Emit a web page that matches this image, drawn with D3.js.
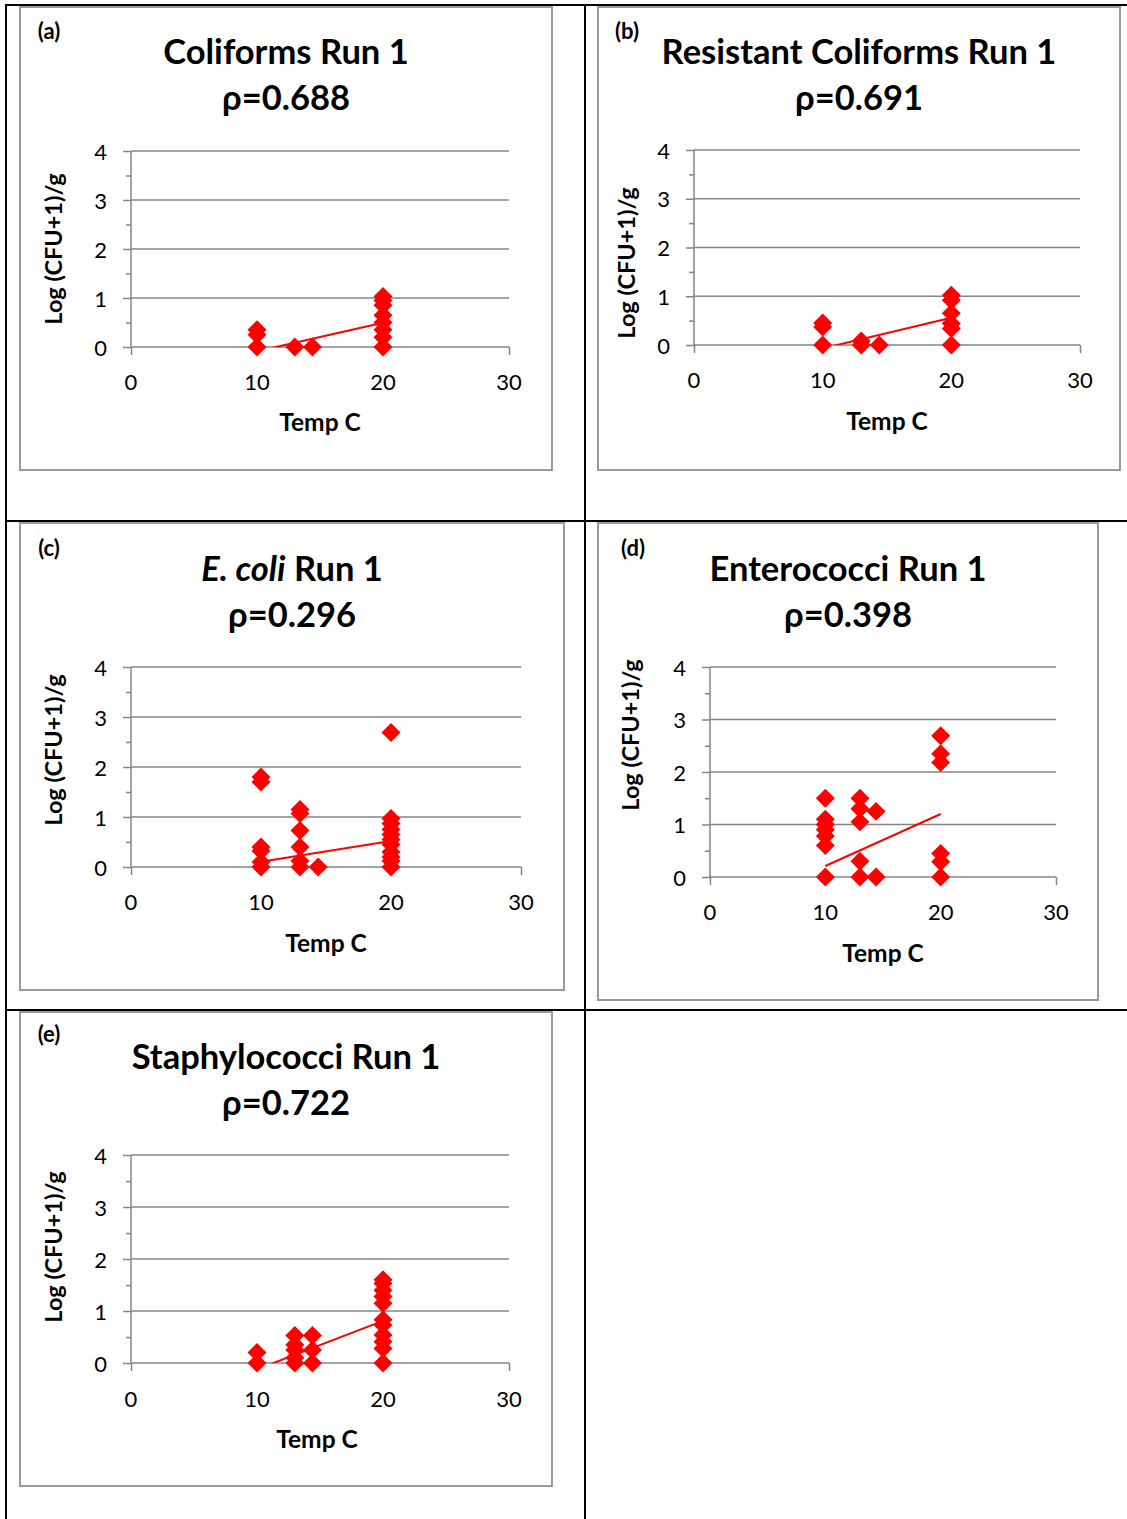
<!DOCTYPE html>
<html><head><meta charset="utf-8">
<script src="https://cdn.jsdelivr.net/npm/d3@7"></script>
<style>
body{margin:0;background:#fff}
svg{display:block}
text{font-family:Lato,'Open Sans',sans-serif;fill:#000}
</style>
</head><body>
<svg id="chart" width="1127" height="1519"></svg>
<script>
// ---------- data ----------
const xTickValues = [0, 10, 20, 30];
const yTickValues = [0, 1, 2, 3, 4];
const panelLetters = ["(a)", "(b)", "(c)", "(d)", "(e)"];
const titleItalic = ["", "", "E. coli", "", ""];
const titleText = ["Coliforms Run 1", "Resistant Coliforms Run 1", " Run 1", "Enterococci Run 1", "Staphylococci Run 1"];
const rhoLabels = ["ρ=0.688", "ρ=0.691", "ρ=0.296", "ρ=0.398", "ρ=0.722"];
const xAxisTitle = "Temp C";
const yAxisTitle = "Log (CFU+1)/g";

const tempsA = [10,10,10, 13, 14.4, 20,20,20,20,20,20,20,20];
const logsA  = [0,0.25,0.35, 0, 0, 0,0.2,0.35,0.5,0.65,0.85,0.95,1.03];

const tempsB = [10,10,10, 13,13, 14.4, 20,20,20,20,20,20];
const logsB  = [0,0.37,0.45, 0,0.08, 0, 0,0.34,0.44,0.65,0.92,1.02];

const tempsC = [10,10,10,10,10,10, 13,13,13,13,13,13, 14.4, 20,20,20,20,20,20,20,20,20,20,20];
const logsC  = [0,0.1,0.32,0.4,1.7,1.8, 0,0.12,0.4,0.73,1.07,1.15, 0, 0,0.12,0.2,0.3,0.45,0.55,0.65,0.75,0.87,0.97,2.69];

const tempsD = [10,10,10,10,10,10,10, 13,13,13,13,13, 14.4,14.4, 20,20,20,20,20,20];
const logsD  = [0,0.6,0.78,0.9,1.0,1.1,1.5, 0,0.3,1.05,1.3,1.5, 0,1.25, 0,0.29,0.45,2.18,2.35,2.69];

const tempsE = [10,10, 13,13,13,13,13, 14.4,14.4,14.4, 20,20,20,20,20,20,20,20,20,20,20];
const logsE  = [0,0.2, 0,0.1,0.25,0.35,0.53, 0,0.25,0.53, 0,0.28,0.41,0.54,0.73,0.83,1.15,1.28,1.4,1.53,1.6];

const trendSlopes = [0.058, 0.063, 0.0413, 0.099, 0.0931];
const trendIntercepts = [-0.667, -0.70, -0.306, -0.78, -1.052];
const trendRange = [10, 20];

const seriesTemps = [tempsA, tempsB, tempsC, tempsD, tempsE];
const seriesLogs = [logsA, logsB, logsC, logsD, logsE];

// ---------- layout ----------
const layouts = [
  {box:[20,7,552,470],   px:[131,509],  py:[347,151],  tx:286, ty:50,   xl:381,  xt:[320,421], yt:[53,249],  lt:[49,30]},
  {box:[598,7,1120,470], px:[694,1080], py:[345,150],  tx:859, ty:50,   xl:379,  xt:[887,420], yt:[626,263], lt:[627,30]},
  {box:[20,523,564,990], px:[131,521],  py:[867,667],  tx:292, ty:567,  xl:901,  xt:[326,942], yt:[53,750],  lt:[49,547]},
  {box:[598,523,1098,1000], px:[710,1056], py:[877,667], tx:848, ty:567, xl:911, xt:[883,952], yt:[630,735], lt:[633,547]},
  {box:[20,1012,552,1486], px:[131,509], py:[1363,1155], tx:286, ty:1055, xl:1398, xt:[317,1438], yt:[53,1247], lt:[49,1033]}
];

const svg = d3.select("#chart");
svg.append("rect").attr("width",1127).attr("height",1519).attr("fill","#fff");

// table lines
const tbl = svg.append("g").attr("stroke","#000").attr("stroke-width",2);
[[6,4,6,1519],[585,4,585,1519],[6,5,1127,5],[6,521,1127,521],[6,1010,1127,1010]].forEach(l=>{
  tbl.append("line").attr("x1",l[0]).attr("y1",l[1]).attr("x2",l[2]).attr("y2",l[3]);
});

const gridColor = "#858585";
const red = "#ff0000";
const diamond = d3.symbol().type(d3.symbolSquare).size(180);

layouts.forEach((L, i) => {
  const g = svg.append("g");
  const [bx0,by0,bx1,by1] = L.box;
  g.append("rect").attr("x",bx0).attr("y",by0).attr("width",bx1-bx0).attr("height",by1-by0)
    .attr("fill","#fff").attr("stroke","#9a9a9a").attr("stroke-width",2);

  const x = d3.scaleLinear().domain([0,30]).range(L.px);
  const y = d3.scaleLinear().domain([0,4]).range(L.py);

  // gridlines
  g.append("g").selectAll("line").data(yTickValues.filter(v=>v>0)).join("line")
    .attr("x1",L.px[0]).attr("x2",L.px[1]).attr("y1",d=>y(d)).attr("y2",d=>y(d))
    .attr("stroke",gridColor).attr("stroke-width",1.5);

  // y axis
  const yAx = g.append("g").attr("transform",`translate(${L.px[0]},0)`)
    .call(d3.axisLeft(y).tickValues(yTickValues).tickSize(8).tickFormat(""));
  yAx.select(".domain").attr("stroke",gridColor).attr("stroke-width",1.5).attr("d",`M0,${L.py[0]}V${L.py[1]}`);
  yAx.selectAll(".tick line").attr("stroke",gridColor).attr("stroke-width",1.5);
  const yMin = g.append("g").attr("transform",`translate(${L.px[0]},0)`)
    .call(d3.axisLeft(y).tickValues(d3.range(0.5,4,1)).tickSize(5).tickFormat(""));
  yMin.select(".domain").remove();
  yMin.selectAll(".tick line").attr("stroke",gridColor).attr("stroke-width",1.5);

  // x axis
  const xAx = g.append("g").attr("transform",`translate(0,${L.py[0]})`)
    .call(d3.axisBottom(x).tickValues(xTickValues).tickSize(8).tickFormat(""));
  xAx.select(".domain").attr("stroke",gridColor).attr("stroke-width",1.5).attr("d",`M${L.px[0]},0H${L.px[1]}`);
  xAx.selectAll(".tick line").attr("stroke",gridColor).attr("stroke-width",1.5);

  // tick labels
  g.append("g").selectAll("text").data(yTickValues).join("text")
    .attr("x",L.px[0]-24).attr("y",d=>y(d)).attr("text-anchor","end")
    .attr("dominant-baseline","central").attr("font-size",22).text(d=>d);
  g.append("g").selectAll("text").data(xTickValues).join("text")
    .attr("x",d=>x(d)).attr("y",L.xl).attr("text-anchor","middle")
    .attr("dominant-baseline","central").attr("font-size",22).text(d=>d);

  // titles
  const t1 = g.append("text").attr("x",L.tx).attr("y",L.ty).attr("text-anchor","middle")
    .attr("dominant-baseline","central").attr("font-size",34.5).attr("font-weight","bold");
  if (titleItalic[i]) t1.append("tspan").attr("font-style","italic").text(titleItalic[i]);
  t1.append("tspan").text(titleText[i]);
  g.append("text").attr("x",L.tx).attr("y",L.ty+46).attr("text-anchor","middle")
    .attr("dominant-baseline","central").attr("font-size",34.5).attr("font-weight","bold").text(rhoLabels[i]);

  // panel letter
  g.append("text").attr("x",L.lt[0]).attr("y",L.lt[1]).attr("text-anchor","middle")
    .attr("dominant-baseline","central").attr("font-size",22).attr("font-weight","bold").text(panelLetters[i]);

  // axis titles
  g.append("text").attr("x",L.xt[0]).attr("y",L.xt[1]).attr("text-anchor","middle")
    .attr("dominant-baseline","central").attr("font-size",24.5).attr("font-weight","bold").text(xAxisTitle);
  g.append("text").attr("transform",`translate(${L.yt[0]},${L.yt[1]}) rotate(-90)`).attr("text-anchor","middle")
    .attr("dominant-baseline","central").attr("font-size",23.5).attr("font-weight","bold").text(yAxisTitle);

  // clip
  const cid = "clip"+i;
  svg.append("clipPath").attr("id",cid).append("rect")
    .attr("x",L.px[0]).attr("y",L.py[1]).attr("width",L.px[1]-L.px[0]).attr("height",L.py[0]-L.py[1]);

  // points
  const pts = seriesTemps[i].map((t,k)=>({t, v: seriesLogs[i][k]}));
  g.append("g").selectAll("path").data(pts).join("path")
    .attr("d",diamond)
    .attr("transform",d=>`translate(${x(d.t)},${y(d.v)}) rotate(45)`)
    .attr("fill",red);

  // trend line
  const tl = trendRange.map(t=>({t, v: trendSlopes[i]*t + trendIntercepts[i]}));
  g.append("path").attr("clip-path",`url(#${cid})`)
    .attr("d", d3.line().x(d=>x(d.t)).y(d=>y(d.v))(tl))
    .attr("fill","none").attr("stroke",red).attr("stroke-width",2);
});
</script>
</body></html>
